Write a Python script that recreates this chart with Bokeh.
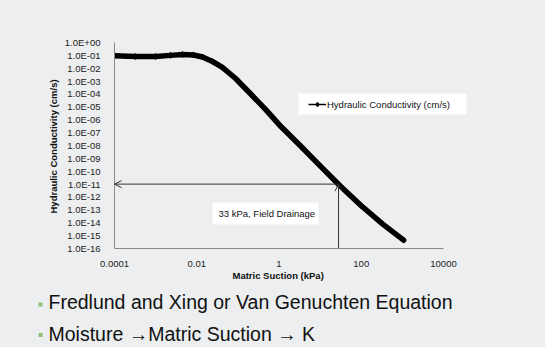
from bokeh.plotting import figure
from bokeh.layouts import column
from bokeh.models import (Range1d, FixedTicker, CustomJSTickFormatter, Arrow, OpenHead,
                          Label, BoxAnnotation, Legend, LegendItem, ColumnDataSource, Title)
from bokeh.core.properties import value
from bokeh.embed import file_html
from bokeh.resources import INLINE

# ---- data ----
suction_kpa = [1e-4, 3.2e-4, 1e-3, 2.3e-3, 4.5e-3, 8.3e-3, 0.0138, 0.024, 0.042, 0.088,
               0.2, 0.47, 1.1, 3.4, 10.3, 29.5, 97, 333, 1070]
conductivity_cms = [0.095, 0.082, 0.082, 0.1, 0.117, 0.108, 0.075, 0.034, 0.0115, 1.6e-3,
                    1.1e-4, 6.4e-6, 3.1e-7, 8.7e-9, 2.4e-10, 8.2e-12, 2.3e-13, 7.9e-15, 4.5e-16]

y_ticks = [1e0, 1e-1, 1e-2, 1e-3, 1e-4, 1e-5, 1e-6, 1e-7, 1e-8, 1e-9, 1e-10,
           1e-11, 1e-12, 1e-13, 1e-14, 1e-15, 1e-16]
y_tick_labels = ["1.0E+00", "1.0E-01", "1.0E-02", "1.0E-03", "1.0E-04", "1.0E-05",
                 "1.0E-06", "1.0E-07", "1.0E-08", "1.0E-09", "1.0E-10", "1.0E-11",
                 "1.0E-12", "1.0E-13", "1.0E-14", "1.0E-15", "1.0E-16"]
x_ticks = [1e-4, 1e-2, 1, 1e2, 1e4]
x_tick_labels = ["0.0001", "0.01", "1", "100", "10000"]

x_title = "Matric Suction (kPa)"
y_title = "Hydraulic Conductivity (cm/s)"
drainage_suction = 28
drainage_k = 1e-11
drainage_text = "33 kPa, Field Drainage"
series_name = "Hydraulic Conductivity (cm/s)"
bullets = ["Fredlund and Xing or Van Genuchten Equation", "Moisture \u2192Matric Suction \u2192 K"]

FONT = "Liberation Sans"
BG = "#eceef0"
W = 545
H_CHART = 282
H_TEXT = 347 - H_CHART

# ---------------- chart ----------------
p = figure(width=W, height=H_CHART, x_axis_type="log", y_axis_type="log", title=None,
           x_range=Range1d(1e-4, 3.021e6), y_range=Range1d(1e-16, 1828),
           output_backend="svg", toolbar_location=None,
           min_border_left=114, min_border_right=0, min_border_top=0, min_border_bottom=34)
p.frame_align = False
p.background_fill_color = BG
p.border_fill_color = BG
p.outline_line_color = None
p.xgrid.visible = False
p.ygrid.visible = False

for ax in (p.xaxis[0], p.yaxis[0]):
    ax.axis_line_color = "#8a8a8a"
    ax.axis_line_width = 1
    ax.major_tick_line_color = None
    ax.minor_tick_line_color = None
    ax.major_label_text_font = FONT
    ax.major_label_text_font_size = "9.5px"
    ax.major_label_text_color = "#222222"

p.xaxis.bounds = (x_ticks[0], x_ticks[-1])
p.yaxis.bounds = (y_ticks[-1], y_ticks[0])
p.xaxis.ticker = FixedTicker(ticks=x_ticks)
p.yaxis.ticker = FixedTicker(ticks=y_ticks)
code = """
let best = 0, bd = Infinity;
for (let i = 0; i < tvals.length; i++) {
  const d = Math.abs(Math.log10(tick) - Math.log10(tvals[i]));
  if (d < bd) { bd = d; best = i; }
}
return tlabels[best];
"""
p.xaxis.formatter = CustomJSTickFormatter(args=dict(tvals=x_ticks, tlabels=x_tick_labels), code=code)
p.yaxis.formatter = CustomJSTickFormatter(args=dict(tvals=y_ticks, tlabels=y_tick_labels), code=code)
p.xaxis.major_label_standoff = 6
p.yaxis.major_label_standoff = 8

# axis titles, placed along the axes' drawn extent
p.add_layout(Title(text=x_title, align="left", offset=118, standoff=0, vertical_align="top",
                   text_font=FONT, text_font_size="9.5px", text_font_style="bold",
                   text_color="#111111"), "below")
p.add_layout(Title(text=y_title, align="left", offset=35, standoff=4, vertical_align="middle",
                   text_font=FONT, text_font_size="9.5px", text_font_style="bold",
                   text_color="#111111"), "left")

src = ColumnDataSource(dict(x=suction_kpa, k=conductivity_cms))
thin = p.line("x", "k", source=src, line_color="black", line_width=1.5)
pts = p.scatter("x", "k", source=src, marker="diamond", size=6, color="black")
p.line("x", "k", source=src, line_color="black", line_width=5.5, line_join="round", line_cap="round")

# arrows
p.add_layout(Arrow(end=OpenHead(size=7, line_width=1, line_color="#333333"),
                   x_start=drainage_suction, y_start=drainage_k, x_end=x_ticks[0], y_end=drainage_k,
                   line_color="#333333", line_width=1))
p.add_layout(Arrow(end=OpenHead(size=7, line_width=1, line_color="#333333"),
                   x_start=drainage_suction, y_start=y_ticks[-1], x_end=drainage_suction, y_end=drainage_k,
                   line_color="#333333", line_width=1))

SCR = dict(left_units="screen", right_units="screen", top_units="screen", bottom_units="screen")
p.add_layout(BoxAnnotation(left=98, right=204, top=46, bottom=24, fill_color="white",
                           fill_alpha=1, line_color=None, **SCR))
p.add_layout(Label(x=104, y=35, x_units="screen", y_units="screen", text=drainage_text,
                   text_font=FONT, text_font_size="9.5px", text_color="#111111", text_baseline="middle"))

p.add_layout(BoxAnnotation(left=184, right=352, top=155, bottom=134, fill_color="white",
                           fill_alpha=1, line_color=None, **SCR))
legend = Legend(items=[LegendItem(label=series_name, renderers=[thin, pts])],
                location=(194, 138), padding=0, margin=0, spacing=0,
                glyph_width=18, glyph_height=12, label_height=12, label_standoff=1,
                label_text_font=FONT, label_text_font_size="9.5px", label_text_color="#111111",
                background_fill_alpha=0, border_line_color=None)
p.add_layout(legend)

# ---------------- bullet text below ----------------
t = figure(width=W, height=H_TEXT, x_range=Range1d(0, W), y_range=Range1d(H_TEXT, 0), title=None,
           output_backend="svg", toolbar_location=None,
           x_axis_location=None, y_axis_location=None,
           min_border_left=0, min_border_right=0, min_border_top=0, min_border_bottom=0)
t.frame_align = False
t.background_fill_color = BG
t.border_fill_color = BG
t.outline_line_color = None
t.xgrid.visible = False
t.ygrid.visible = False
text_mid = [19, 51]
t.rect(x=[40, 40], y=[22, 52.5], width=4, height=4, fill_color="#8dbf78", line_color=None)
t.text(x=[48, 48], y=text_mid, text=bullets, text_font=value(FONT), text_font_size="19.5px",
       text_color="#111111", text_baseline="middle", text_align="left")

layout = column(p, t, spacing=0, styles={"background-color": BG})
open("out.html", "w").write(file_html(layout, INLINE))
